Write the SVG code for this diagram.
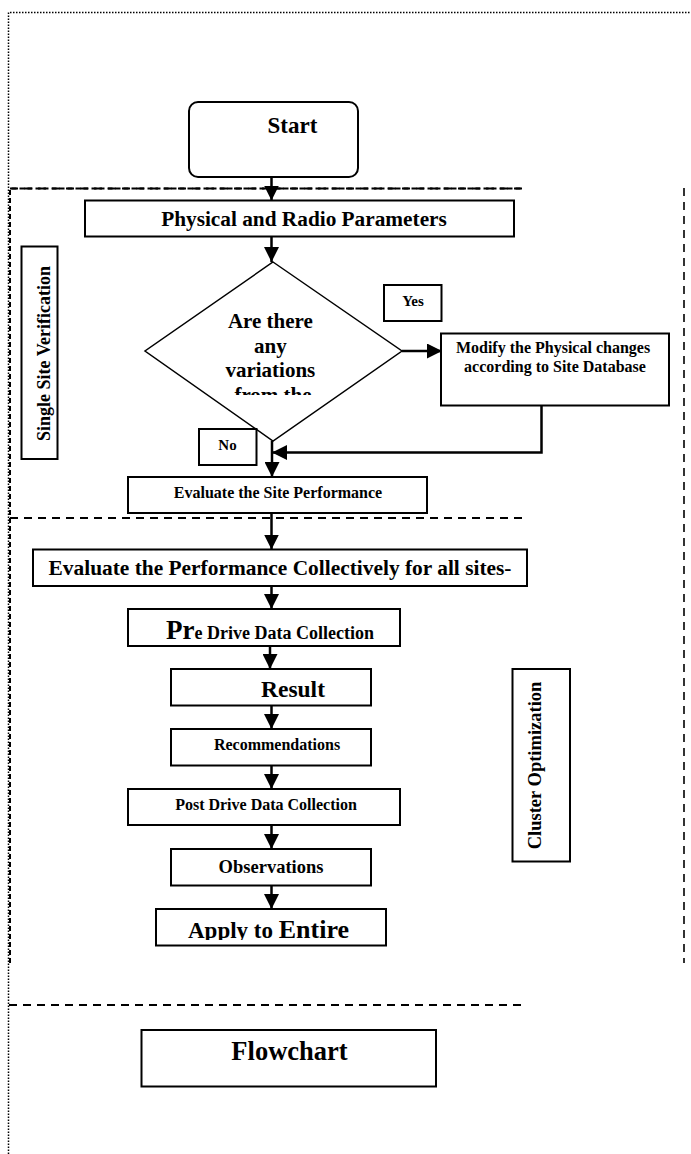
<svg xmlns="http://www.w3.org/2000/svg" width="691" height="1154" viewBox="0 0 691 1154">
<style>
  .box { fill: #fff; stroke: #000; stroke-width: 2; }
  .t { font-family: "Liberation Serif", "Times New Roman", serif; font-weight: bold; fill: #000; }
  .conn { fill: none; stroke: #000; stroke-width: 2.5; }
  .dash { fill: none; stroke: #000; stroke-width: 2; stroke-dasharray: 8 6; }
  .dot { fill: none; stroke: #000; stroke-width: 1.5; stroke-dasharray: 1.5 1.5; }
</style>
<defs>
  <marker id="arr" markerUnits="userSpaceOnUse" markerWidth="15" markerHeight="15" refX="15" refY="7.5" orient="auto">
    <path d="M0,0 L15,7.5 L0,15 z" fill="#000"/>
  </marker>
  <clipPath id="clipDiamond"><rect x="140" y="255" width="270" height="140"/></clipPath>
  <clipPath id="clipApply"><rect x="156" y="905" width="230" height="35"/></clipPath>
</defs>
<rect width="691" height="1154" fill="#fff"/>

<g id="frames">
  <path class="dot" d="M8.5,1154 V12.5 H691"/>
  <path class="dash" d="M10,963 V188.5 H523" style="stroke-dasharray:5 3"/>
  <path class="dash" d="M10,188.5 H523"/>
  <path class="dash" d="M10,518 H523"/>
  <path class="dash" d="M9,1005 H523"/>
  <path class="dash" d="M684,188 V963" style="stroke-width:1.6"/>
</g>

<g id="connectors">
  <path class="conn" d="M271.5,177 V200.5" marker-end="url(#arr)"/>
  <path class="conn" d="M271.5,236.5 V262" marker-end="url(#arr)"/>
  <path class="conn" d="M402,351 H442" marker-end="url(#arr)"/>
  <path class="conn" d="M541.5,405.5 V452.5 H272" marker-end="url(#arr)"/>
  <path class="conn" d="M272,441 V477" marker-end="url(#arr)"/>
  <path class="conn" d="M271.5,513 V549.5" marker-end="url(#arr)"/>
  <path class="conn" d="M271.5,586 V609" marker-end="url(#arr)"/>
  <path class="conn" d="M270,643 V669" marker-end="url(#arr)"/>
  <path class="conn" d="M271.5,705.5 V729" marker-end="url(#arr)"/>
  <path class="conn" d="M271.5,765.5 V789" marker-end="url(#arr)"/>
  <path class="conn" d="M271.5,825 V849" marker-end="url(#arr)"/>
  <path class="conn" d="M271.5,885.5 V909" marker-end="url(#arr)"/>
</g>

<g id="start">
  <rect class="box" x="189" y="102" width="169" height="75" rx="9"/>
  <text class="t" x="267.5" y="133" font-size="23">Start</text>
</g>

<g id="physical">
  <rect class="box" x="85" y="200.5" width="429" height="36"/>
  <text class="t" x="304" y="226" font-size="21.3" text-anchor="middle">Physical and Radio Parameters</text>
</g>

<g id="decision">
  <polygon points="273,262 402,351 273,441 145,351" fill="#fff" stroke="#000" stroke-width="1.5"/>
  <g clip-path="url(#clipDiamond)">
    <text class="t" font-size="21" text-anchor="middle">
      <tspan x="273" y="328">Are there</tspan>
      <tspan x="273" y="352.5">any</tspan>
      <tspan x="273" y="377">variations</tspan>
      <tspan x="273" y="401.5">from the</tspan>
    </text>
  </g>
</g>

<g id="yes">
  <rect class="box" x="384" y="285" width="57.5" height="36"/>
  <text class="t" x="413" y="306" font-size="15" text-anchor="middle">Yes</text>
</g>

<g id="modify">
  <rect class="box" x="441" y="333.5" width="228" height="72"/>
  <text class="t" font-size="16" text-anchor="middle">
    <tspan x="555" y="353.3">Modify the Physical changes</tspan>
    <tspan x="555" y="371.7">according to Site Database</tspan>
  </text>
</g>

<g id="no">
  <rect class="box" x="199" y="429" width="57.5" height="36"/>
  <text class="t" x="227.5" y="450" font-size="15" text-anchor="middle">No</text>
</g>

<g id="evaluate-site">
  <rect class="box" x="128" y="477" width="299" height="36"/>
  <text class="t" x="278" y="498" font-size="16" text-anchor="middle">Evaluate the Site Performance</text>
</g>

<g id="single-site">
  <rect class="box" x="21.5" y="246.5" width="36" height="212.5"/>
  <text class="t" transform="translate(50,353.5) rotate(-90)" font-size="18" text-anchor="middle">Single Site Verification</text>
</g>

<g id="evaluate-collectively">
  <rect class="box" x="33" y="549.5" width="494" height="36.5"/>
  <text class="t" x="280" y="575" font-size="21.4" text-anchor="middle">Evaluate the Performance Collectively for all sites-</text>
</g>

<g id="pre-drive">
  <rect class="box" x="128" y="609" width="272" height="37"/>
  <text class="t" x="166" y="639"><tspan font-size="27">Pr</tspan><tspan font-size="18">e Drive Data Collection</tspan></text>
</g>

<g id="result">
  <rect class="box" x="171" y="669" width="200" height="36.5"/>
  <text class="t" x="261" y="696.7" font-size="23.5">Result</text>
</g>

<g id="recommendations">
  <rect class="box" x="171" y="729" width="200" height="36.5"/>
  <text class="t" x="277" y="750" font-size="16" text-anchor="middle">Recommendations</text>
</g>

<g id="post-drive">
  <rect class="box" x="128" y="789" width="272" height="36"/>
  <text class="t" x="266" y="809.5" font-size="16" text-anchor="middle">Post Drive Data Collection</text>
</g>

<g id="observations">
  <rect class="box" x="171" y="849" width="200" height="36.5"/>
  <text class="t" x="271" y="872.7" font-size="18.5" text-anchor="middle">Observations</text>
</g>

<g id="apply">
  <rect class="box" x="156" y="909" width="230" height="36.5"/>
  <g clip-path="url(#clipApply)">
    <text class="t" x="188" y="937.5"><tspan font-size="23">Apply to </tspan><tspan font-size="26">Entire</tspan></text>
  </g>
</g>

<g id="cluster">
  <rect class="box" x="512.5" y="669" width="57.5" height="192.5"/>
  <text class="t" transform="translate(540.7,765.5) rotate(-90)" font-size="18.5" text-anchor="middle">Cluster Optimization</text>
</g>

<g id="flowchart">
  <rect class="box" x="141.5" y="1030" width="294.5" height="56.5"/>
  <text class="t" x="289.5" y="1060" font-size="26.5" text-anchor="middle">Flowchart</text>
</g>
</svg>
